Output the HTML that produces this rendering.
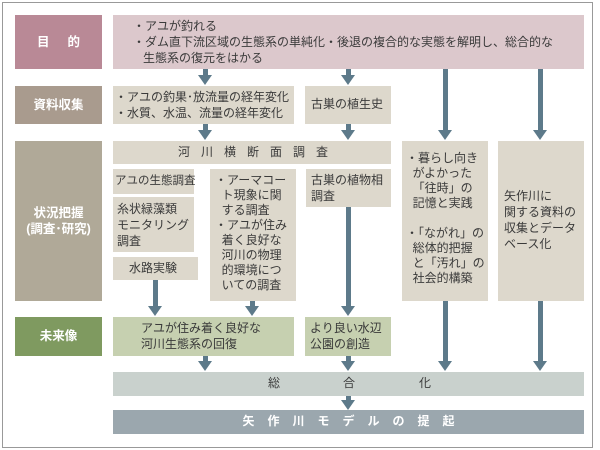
<!DOCTYPE html>
<html><head><meta charset="utf-8"><style>
body{margin:0;width:600px;height:450px;background:#fff;position:relative;overflow:hidden;font-family:"Liberation Sans","Noto Sans CJK JP",sans-serif;color:#3a3a3a}
.f{position:absolute;left:2px;top:2px;width:589px;height:444px;border:1px solid #999}
.b{position:absolute;box-sizing:border-box;font-size:12px;line-height:15px;white-space:nowrap}
.l{color:#fff;font-weight:bold;font-size:12.5px;display:flex;align-items:center;justify-content:center;text-align:center}
.c{background:#ddd8cc}
.a{position:absolute;width:5px;background:#5d7a8a}
.a:after{content:"";position:absolute;left:-5px;bottom:-9px;border-left:7.5px solid transparent;border-right:7.5px solid transparent;border-top:10px solid #5d7a8a}
</style></head><body>
<div class="f"></div>
<div class="b l" style="left:15px;top:15px;width:87px;height:54px;background:#b98996;letter-spacing:18px;padding-left:18px">目的</div>
<div class="b l" style="left:15px;top:86px;width:87px;height:38px;background:#a99b8e">資料収集</div>
<div class="b l" style="left:15px;top:141px;width:87px;height:160px;background:#b0a998;line-height:16px">状況把握<br>(調査･研究)</div>
<div class="b l" style="left:15px;top:317px;width:87px;height:39px;background:#7f9a60">未来像</div>

<div class="b" style="left:113px;top:15px;width:471px;height:54px;background:#dcc8cc;padding:3px 0 0 20px;line-height:16px">・アユが釣れる<br>・ダム直下流区域の生態系の単純化・後退の複合的な実態を解明し、総合的な<br>&nbsp;&nbsp;&nbsp;生態系の復元をはかる</div>
<div class="b c" style="left:113px;top:86px;width:181px;height:38px;padding:3px 0 0 2px;line-height:16px">・アユの釣果･放流量の経年変化<br>・水質、水温、流量の経年変化</div>
<div class="b c" style="left:305px;top:86px;width:86px;height:38px;padding:11px 0 0 6px">古巣の植生史</div>
<div class="b c" style="left:113px;top:141px;width:278px;height:23px;padding:4px 0 0 65px;letter-spacing:11px">河川横断面調査</div>
<div class="b c" style="left:402px;top:141px;width:86px;height:160px;padding:10px 0 0 4px">・暮らし向き<br>&nbsp;&nbsp;がよかった<br>&nbsp;&nbsp;「往時」の<br>&nbsp;&nbsp;記憶と実践<br><br>・「ながれ」の<br>&nbsp;&nbsp;総体的把握<br>&nbsp;&nbsp;と「汚れ」の<br>&nbsp;&nbsp;社会的構築</div>
<div class="b c" style="left:498px;top:141px;width:86px;height:160px;padding:47px 0 0 6px;line-height:16px">矢作川に<br>関する資料の<br>収集とデータ<br>ベース化</div>
<div class="b c" style="left:113px;top:169px;width:81px;height:25px;padding:5px 0 0 2px;font-size:11.5px">アユの生態調査</div>
<div class="b c" style="left:113px;top:197px;width:81px;height:55px;padding:4px 0 0 4px;line-height:16px">糸状緑藻類<br>モニタリング<br>調査</div>
<div class="b c" style="left:113px;top:257px;width:85px;height:23px;padding:4px 0 0 16px">水路実験</div>
<div class="b c" style="left:210px;top:169px;width:86px;height:132px;padding:4px 0 0 5px">・アーマコー<br>&nbsp;&nbsp;ト現象に関<br>&nbsp;&nbsp;する調査<br>・アユが住み<br>&nbsp;&nbsp;着く良好な<br>&nbsp;&nbsp;河川の物理<br>&nbsp;&nbsp;的環境につ<br>&nbsp;&nbsp;いての調査</div>
<div class="b c" style="left:306px;top:169px;width:85px;height:38px;padding:3px 0 0 5px;line-height:16px">古巣の植物相<br>調査</div>
<div class="b" style="left:113px;top:317px;width:181px;height:39px;background:#c6d0b0;padding:3px 0 0 28px;line-height:16px">アユが住み着く良好な<br>河川生態系の回復</div>
<div class="b" style="left:305px;top:317px;width:86px;height:39px;background:#c6d0b0;padding:3px 0 0 5px;line-height:16px">より良い水辺<br>公園の創造</div>
<div class="b" style="left:113px;top:372px;width:471px;height:24px;background:#c9d1cd"><span style="position:absolute;left:155px;top:4px">総</span><span style="position:absolute;left:230px;top:4px">合</span><span style="position:absolute;left:306px;top:4px">化</span></div>
<div class="b" style="left:113px;top:410px;width:471px;height:24px;background:#9ba7ae;color:#fff;padding:4px 0 0 13px;text-align:center;letter-spacing:13px;font-weight:bold">矢作川モデルの提起</div>

<div class="a" style="left:203px;top:69px;height:7px"></div>
<div class="a" style="left:346px;top:69px;height:7px"></div>
<div class="a" style="left:443px;top:69px;height:62px"></div>
<div class="a" style="left:538px;top:69px;height:62px"></div>
<div class="a" style="left:203px;top:124px;height:7px"></div>
<div class="a" style="left:346px;top:124px;height:7px"></div>
<div class="a" style="left:346px;top:207px;height:100px"></div>
<div class="a" style="left:153px;top:280px;height:27px"></div>
<div class="a" style="left:250px;top:301px;height:6px"></div>
<div class="a" style="left:203px;top:356px;height:6px"></div>
<div class="a" style="left:346px;top:356px;height:6px"></div>
<div class="a" style="left:443px;top:301px;height:61px"></div>
<div class="a" style="left:538px;top:301px;height:61px"></div>
<div class="a" style="left:346px;top:396px;height:5px"></div>
</body></html>
